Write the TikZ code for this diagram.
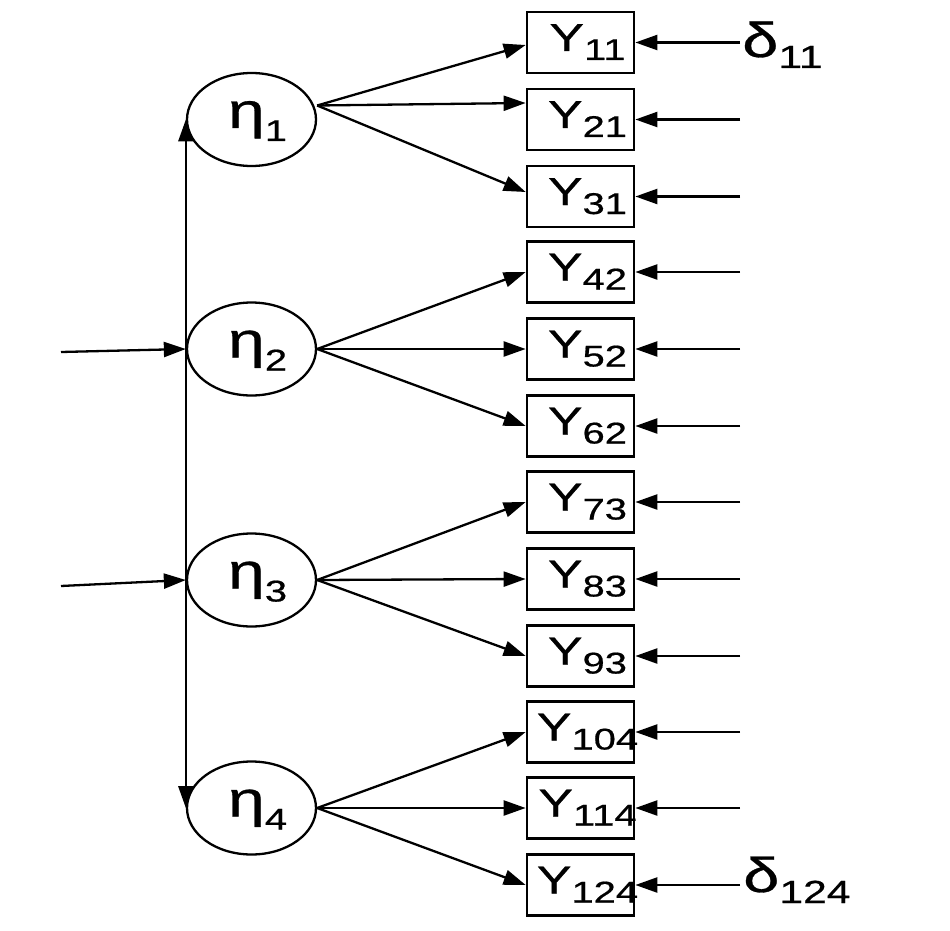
\documentclass[tikz,border=0pt]{standalone}
\usepackage{fontspec}
\newfontfamily\diagfont[FakeStretch=1.33,FakeBold=0.6]{Liberation Sans}
\usetikzlibrary{arrows.meta,shapes.geometric}
\newcommand{\etalab}[1]{\makebox[0pt]{\hspace*{12pt}\fontsize{50}{50}\selectfont η\raisebox{-13pt}{\fontsize{30}{30}\selectfont #1}}}
\newcommand{\ylab}[1]{\makebox[0pt]{\hspace*{14pt}\fontsize{39}{39}\selectfont Y\raisebox{-9pt}{\fontsize{30}{30}\selectfont #1}}}
\newcommand{\dlab}[1]{\fontsize{49}{49}\selectfont δ\raisebox{-11pt}{\fontsize{32}{32}\selectfont #1}}
\begin{document}
\begin{tikzpicture}[x=1pt,y=-1pt,font=\diagfont,
  latent/.style={ellipse, draw, line width=2.3pt, minimum width=129pt, minimum height=93pt, inner sep=0pt, text height=27pt, text depth=10pt},
  obs/.style={rectangle, draw, line width=2.7pt, minimum width=107pt, minimum height=61pt, inner sep=0pt, text height=27pt, text depth=10pt},
  conn/.style={line width=2.3pt, -{Triangle[length=22pt,width=15pt]}},
  both/.style={line width=2.3pt, {Triangle[length=22pt,width=15pt]}-{Triangle[length=22pt,width=15pt]}},
  dlabel/.style={anchor=base west, inner sep=0pt}]
\useasboundingbox[fill=white] (0,0) rectangle (950,931);
% latent variables
\node[latent] (e1) at (251.5,119.5) {\etalab{1}};
\node[latent] (e2) at (251.5,349) {\etalab{2}};
\node[latent] (e3) at (251.5,580) {\etalab{3}};
\node[latent] (e4) at (251.5,808) {\etalab{4}};
% observed variables
\foreach \i/\yy/\s in {1/42.5/11, 2/119.5/21, 3/196.5/31, 4/272/42, 5/349/52, 6/426/62,
                      7/502/73, 8/579/83, 9/656/93, 10/732/104, 11/808/114, 12/885/124}{
  \node[obs] (y\i) at (580.5,\yy) {\ylab{\s}};
  \coordinate (r\i) at (740,\yy);
  \draw[conn] (r\i) -- (y\i.east);
}
% error labels
\node[dlabel] (d11) at (742,57) {\dlab{11}};
\node[dlabel] (d124) at (743,892) {\dlab{124}};
% loadings
\draw[conn] ([yshift=14pt]e1.east) -- ([yshift=-2.5pt]y1.west);
\draw[conn] ([yshift=14pt]e1.east) -- ([yshift=16.5pt]y2.west);
\draw[conn] ([yshift=14pt]e1.east) -- ([yshift=4.5pt]y3.west);
\foreach \e/\a/\b/\c in {2/4/5/6, 3/7/8/9, 4/10/11/12}{
  \draw[conn] (e\e.east) -- (y\a.west);
  \draw[conn] (e\e.east) -- (y\b.west);
  \draw[conn] (e\e.east) -- (y\c.west);
}
% correlations among latent variables
\draw[both] (e1.west) -- (e4.west);
% inputs
\coordinate (in2) at (61,352);
\coordinate (in3) at (61,586);
\draw[conn] (in2) -- (e2.west);
\draw[conn] (in3) -- (e3.west);
\end{tikzpicture}
\end{document}
